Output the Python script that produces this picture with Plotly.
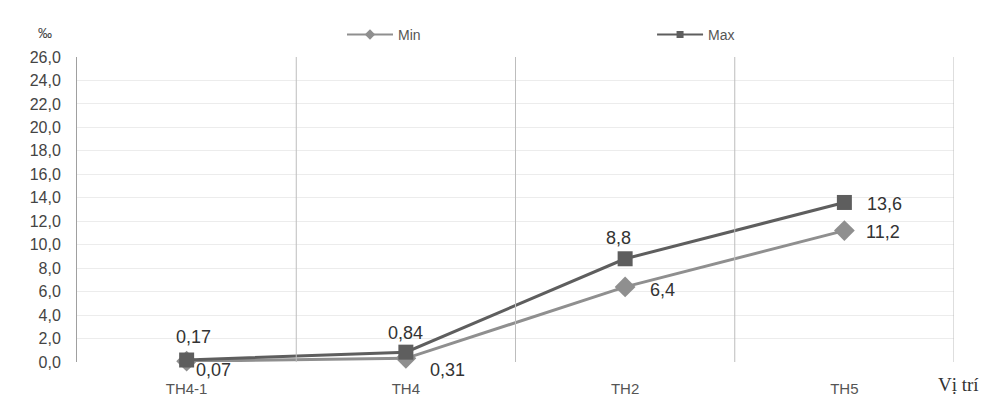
import plotly.graph_objects as go

categories = ["TH4-1", "TH4", "TH2", "TH5"]
min_vals = [0.07, 0.31, 6.4, 11.2]
max_vals = [0.17, 0.84, 8.8, 13.6]
min_labels = ["0,07", "0,31", "6,4", "11,2"]
max_labels = ["0,17", "0,84", "8,8", "13,6"]

# label offsets in pixels (style only)
min_shift = [(27, -9), (42, -12), (37, -3), (39, -1)]
max_shift = [(7, 23), (0, 19), (-7, 21), (40, -2)]

FONT = "Liberation Sans"
MIN_C = "#8f8f8f"
MAX_C = "#5e5e5e"

fig = go.Figure()
fig.add_trace(go.Scatter(
    x=categories, y=min_vals, name="Min", mode="lines+markers",
    line=dict(color=MIN_C, width=3),
    marker=dict(symbol="diamond", size=16, color=MIN_C),
    cliponaxis=False, showlegend=False,
))
fig.add_trace(go.Scatter(
    x=categories, y=max_vals, name="Max", mode="lines+markers",
    line=dict(color=MAX_C, width=3),
    marker=dict(symbol="square", size=15, color=MAX_C),
    cliponaxis=False, showlegend=False,
))
# legend entries (thin lines, small markers as in the reference legend)
fig.add_trace(go.Scatter(
    x=[None], y=[None], name="Min", mode="lines+markers",
    line=dict(color=MIN_C, width=2),
    marker=dict(symbol="diamond", size=8, color=MIN_C),
    legend="legend",
))
fig.add_trace(go.Scatter(
    x=[None], y=[None], name="Max", mode="lines+markers",
    line=dict(color=MAX_C, width=2),
    marker=dict(symbol="square", size=7, color=MAX_C),
    legend="legend2",
))

annotations = []
for cat, v, t, (dx, dy) in zip(categories, min_vals, min_labels, min_shift):
    annotations.append(dict(x=cat, y=v, xref="x", yref="y", text=t, showarrow=False,
                            xshift=dx, yshift=dy, xanchor="center", yanchor="middle",
                            font=dict(family=FONT, size=18, color="#333333")))
for cat, v, t, (dx, dy) in zip(categories, max_vals, max_labels, max_shift):
    annotations.append(dict(x=cat, y=v, xref="x", yref="y", text=t, showarrow=False,
                            xshift=dx, yshift=dy, xanchor="center", yanchor="middle",
                            font=dict(family=FONT, size=18, color="#333333")))
annotations += [
    dict(text="‰", xref="paper", yref="paper", x=-0.0365, y=1.079,
         xanchor="center", yanchor="middle", showarrow=False,
         font=dict(size=14, color="#444444")),
    dict(text="Vị trí", xref="paper", yref="paper", x=1.0046, y=-0.075,
         xanchor="center", yanchor="middle", showarrow=False,
         font=dict(family="Liberation Serif", size=19, color="#333333")),
]

fig.update_layout(
    width=997, height=395,
    margin=dict(l=69, r=51, t=49, b=41, autoexpand=False),
    paper_bgcolor="white", plot_bgcolor="white",
    separators=",.",
    font=dict(family=FONT, size=13, color="#444444"),
    showlegend=True,
    legend=dict(xref="container", yref="container", x=0.335, y=0.932,
                xanchor="left", yanchor="middle", orientation="h", itemwidth=46,
                font=dict(size=14, color="#555555"), bgcolor="rgba(0,0,0,0)"),
    legend2=dict(xref="container", yref="container", x=0.646, y=0.932,
                 xanchor="left", yanchor="middle", orientation="h", itemwidth=46,
                 font=dict(size=14, color="#555555"), bgcolor="rgba(0,0,0,0)"),
    xaxis=dict(
        range=[-0.5, 3.5], showgrid=False, showline=False, zeroline=False,
        ticks="outside", ticklen=13, tickcolor="rgba(0,0,0,0)",
        tickfont=dict(size=15, color="#555555"),
    ),
    yaxis=dict(
        range=[0, 26], dtick=2, tickformat=".1f",
        showgrid=True, gridcolor="#ececec", gridwidth=1,
        showline=True, linecolor="#a0a0a0", linewidth=1,
        zeroline=False, ticks="", ticklabelstandoff=12,
        tickfont=dict(size=16, color="#444444"),
    ),
    annotations=annotations,
    shapes=[
        dict(type="line", xref="x", yref="paper", x0=b, x1=b, y0=0, y1=1,
             line=dict(color="#bdbdbd", width=1))
        for b in [0.5, 1.5, 2.5, 3.5]
    ],
)

fig.write_html("out.html")
